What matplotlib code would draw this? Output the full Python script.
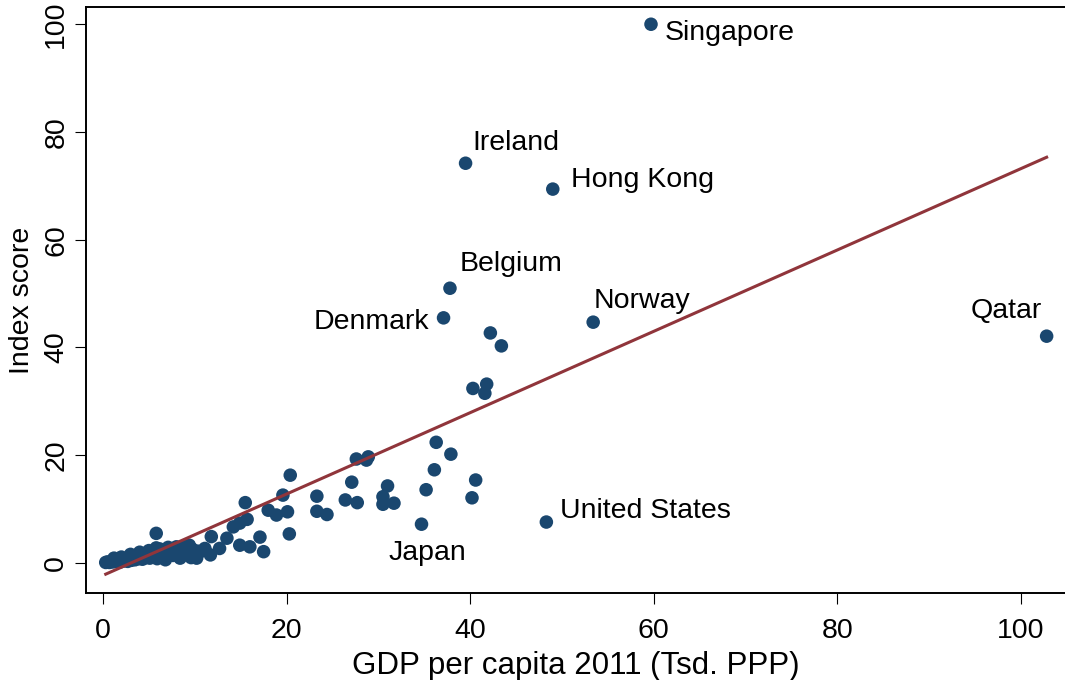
import numpy as np
import matplotlib.pyplot as plt

plt.rcParams['font.family'] = ['Liberation Sans', 'DejaVu Sans']

# GDP per capita 2011 (thousand PPP) and index score, one entry per country
gdp = [
    # labelled countries
    59.7, 39.5, 49.0, 37.8, 37.1, 53.4, 102.8, 48.3, 34.7,
    # upper middle group
    42.2, 43.4, 40.3, 41.8, 41.6, 36.3, 37.9, 36.1, 35.2, 40.6, 40.2,
    27.6, 28.9, 28.7, 27.1, 31.0, 30.5, 30.5, 31.7, 23.3, 23.3, 24.4, 26.4, 27.7,
    # middle group
    20.4, 15.5, 19.6, 18.0, 18.9, 20.1, 15.7, 14.9, 14.2, 20.3, 11.8, 13.5, 17.1,
    14.9, 16.0, 17.5, 12.7, 11.1, 10.6, 11.7, 5.8,
    # low income band
    0.3, 0.5, 0.7, 0.9, 1.1, 1.3, 1.5, 1.7, 1.9, 2.1, 2.3, 2.5, 2.7, 2.9, 3.1,
    3.3, 3.5, 3.7, 3.9, 4.1, 4.3, 4.5, 4.7, 4.9, 5.1, 5.3, 5.5, 5.8, 5.9, 6.1,
    6.4, 6.7, 7.0, 7.3, 7.6, 7.9, 8.2, 8.5, 8.8, 9.1, 9.4, 9.7, 10.0, 10.3, 10.2,
    3.0, 4.0, 5.0, 6.2, 7.1, 8.0, 6.8, 8.4, 9.6, 2.0, 1.2,
]
score = [
    100.0, 74.2, 69.4, 51.0, 45.5, 44.7, 42.1, 7.6, 7.2,
    42.7, 40.3, 32.4, 33.2, 31.5, 22.4, 20.2, 17.3, 13.6, 15.4, 12.1,
    19.3, 19.7, 19.1, 15.0, 14.3, 12.3, 10.9, 11.1, 12.4, 9.6, 9.0, 11.7, 11.2,
    16.3, 11.2, 12.6, 9.8, 8.9, 9.5, 8.1, 7.4, 6.7, 5.4, 4.9, 4.6, 4.8,
    3.3, 3.0, 2.1, 2.7, 2.7, 2.1, 1.5, 5.5,
    0.1, 0.2, 0.1, 0.3, 0.2, 0.4, 0.3, 0.5, 0.2, 0.6, 0.4, 0.7, 0.3, 0.8, 0.5,
    1.0, 0.6, 1.1, 0.8, 1.3, 0.7, 1.5, 1.0, 1.6, 0.9, 1.8, 1.2, 2.8, 0.8, 1.5,
    2.0, 1.2, 1.8, 2.3, 1.4, 2.0, 1.6, 2.5, 3.1, 1.9, 3.3, 2.6, 1.3, 2.2, 0.9,
    1.6, 2.0, 2.3, 2.6, 2.9, 3.0, 0.6, 0.9, 1.0, 1.1, 0.9,
]

# labelled countries: name, text offset (pixels), alignment
labels = ['Singapore', 'Ireland', 'Hong Kong', 'Belgium', 'Denmark',
          'Norway', 'Qatar', 'United States', 'Japan']
label_offsets = [(14, -9), (7, 20), (18, 9), (10, 24), (-14, -4),
                 (0, 21), (-5, 25), (14, 11), (-33, -29)]
label_ha = ['left', 'left', 'left', 'left', 'right',
            'left', 'right', 'left', 'left']

# linear fit line
fit_intercept = -2.3
fit_slope = 0.755

navy = '#1a476f'
maroon = '#90353b'

fig = plt.figure(figsize=(10.65, 6.8), dpi=100)
ax = fig.add_axes([86 / 1065, 87 / 680, 1 - 86 / 1065, (593 - 7) / 680])

ax.scatter(gdp, score, s=95, color=navy, edgecolors='none', zorder=3)

fit_x = np.array([min(gdp), max(gdp)])
ax.plot(fit_x, fit_intercept + fit_slope * fit_x, color=maroon, lw=2.2, zorder=4)

for name, (dx, dy), ha in zip(labels, label_offsets, label_ha):
    i = labels.index(name)
    ax.annotate(name, (gdp[i], score[i]), xytext=(dx, dy),
                textcoords='offset pixels', ha=ha, va='center', fontsize=20.5)

ax.set_xlim(-1.85, 104.8)
ax.set_ylim(-5.57, 103.2)
ax.set_xticks(range(0, 101, 20))
ax.set_yticks(range(0, 101, 20))
ax.tick_params(axis='both', direction='out', length=8, width=0.8, labelsize=20.5)
ax.tick_params(axis='x', pad=10)
ax.tick_params(axis='y', pad=4)
plt.setp(ax.get_yticklabels(), rotation=90, va='center')

ax.spines['right'].set_visible(False)
for side in ['left', 'bottom', 'top']:
    ax.spines[side].set_linewidth(1.4)

ax.set_xlabel('GDP per capita 2011 (Tsd. PPP)', fontsize=22.5, labelpad=5)
ax.set_ylabel('Index score', fontsize=20.5, labelpad=6)

fig.savefig('out.png', dpi=100, facecolor='white')
